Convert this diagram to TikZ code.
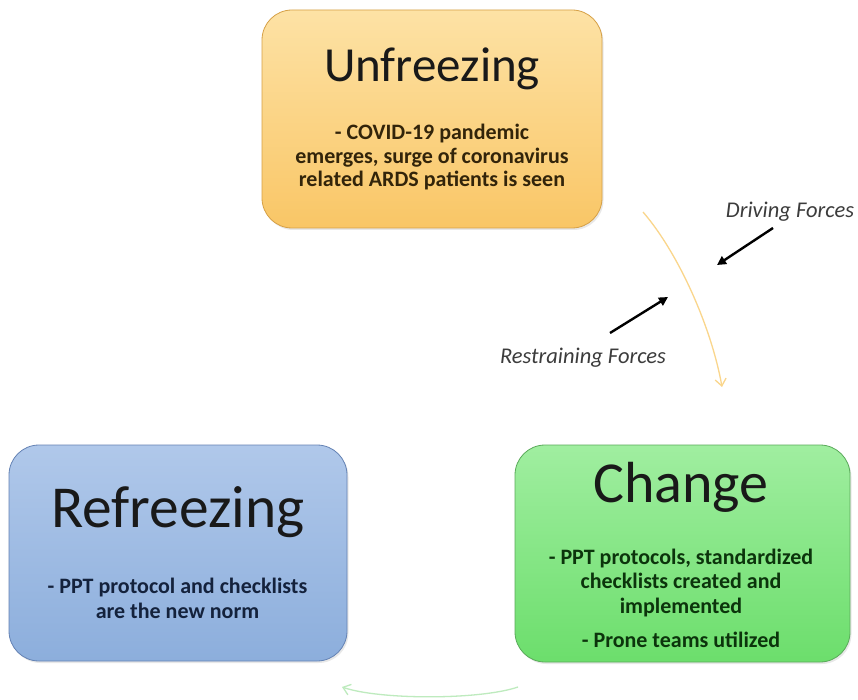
\documentclass[tikz,border=0pt]{standalone}
\usepackage{fontspec}
\setmainfont{Carlito}
\usetikzlibrary{arrows.meta,shadows}
\definecolor{orTop}{RGB}{253,226,165}
\definecolor{orBot}{RGB}{249,198,102}
\definecolor{orLine}{RGB}{214,160,70}
\definecolor{blTop}{RGB}{176,200,234}
\definecolor{blBot}{RGB}{140,174,220}
\definecolor{blLine}{RGB}{100,130,180}
\definecolor{grTop}{RGB}{160,238,160}
\definecolor{grBot}{RGB}{108,222,108}
\definecolor{grLine}{RGB}{90,170,90}
\definecolor{orTxt}{RGB}{50,36,10}
\definecolor{blTxt}{RGB}{20,34,60}
\definecolor{grTxt}{RGB}{12,52,12}
\definecolor{yArrow}{RGB}{250,214,140}
\definecolor{gArrow}{RGB}{190,235,190}
\definecolor{forceTxt}{RGB}{60,60,60}
\tikzset{
  stagebox/.style={rounded corners=30pt, line width=0.8pt, inner sep=0pt,
    drop shadow={opacity=0.18, shadow xshift=1.5pt, shadow yshift=-2pt}},
  titletext/.style={anchor=base, inner sep=0pt, text=black!90},
  bodytext/.style={anchor=base, inner sep=0pt, align=center, font=\fontsize{22}{24.5}\selectfont\bfseries},
  forcetext/.style={inner sep=0pt, text=forceTxt, font=\fontsize{22.5}{26}\selectfont\itshape},
  forcearrow/.style={line width=2.4pt, -{Triangle[length=9pt,width=9pt]}},
}
\begin{document}
\begin{tikzpicture}[x=1pt,y=-1pt]
\useasboundingbox[fill=white] (0,0) rectangle (858,700);

% boxes
\node[stagebox, draw=orLine, top color=orTop, bottom color=orBot,
  minimum width=340pt, minimum height=218pt] (unf) at (432,119) {};
\node[stagebox, draw=blLine, top color=blTop, bottom color=blBot,
  minimum width=338pt, minimum height=216pt] (ref) at (178,553) {};
\node[stagebox, draw=grLine, top color=grTop, bottom color=grBot,
  minimum width=335pt, minimum height=217pt] (chg) at (682.5,553.5) {};

% titles
\node[titletext, font=\fontsize{49}{56}\selectfont] (unfT) at (432,82) {Unfreezing};
\node[titletext, font=\fontsize{59.5}{68}\selectfont] (refT) at (178,527) {Refreezing};
\node[titletext, font=\fontsize{58}{66}\selectfont] (chgT) at (681,502) {Change};

% bodies (anchor = baseline of the last line)
\node[bodytext, text=orTxt, font=\fontsize{22}{23.5}\selectfont\bfseries] (unfB) at (432,187)
  {- COVID-19 pandemic\\emerges, surge of coronavirus\\related ARDS patients is seen};
\node[bodytext, text=blTxt] (refB) at (177.5,618)
  {- PPT protocol and checklists\\are the new norm};
\node[bodytext, text=grTxt] (chgB) at (681,613)
  {- PPT protocols, standardized\\checklists created and\\implemented};
\node[bodytext, text=grTxt] (chgB2) at (681,647) {- Prone teams utilized};

% cycle arrows
\coordinate (y0) at (643,212);
\coordinate (y1) at (722,387);
\draw[yArrow, line width=1.3pt, -{Straight Barb[length=7pt,width=11pt]}]
  (y0) .. controls (680,255) and (712,330) .. (y1);
\coordinate (g0) at (518,687);
\coordinate (g1) at (342,687);
\draw[gArrow, line width=1.3pt, -{Straight Barb[length=7pt,width=11pt]}]
  (g0) .. controls (480,700) and (380,700) .. (g1);

% forces
\node[forcetext] (drv) at (790,212) {Driving Forces};
\node[forcetext] (rst) at (583,358) {Restraining Forces};
\coordinate (d0) at (773,228);
\coordinate (d1) at (717,265);
\coordinate (r0) at (610,333);
\coordinate (r1) at (668,297);
\draw[forcearrow] (d0) -- (d1);
\draw[forcearrow] (r0) -- (r1);
\end{tikzpicture}
\end{document}
